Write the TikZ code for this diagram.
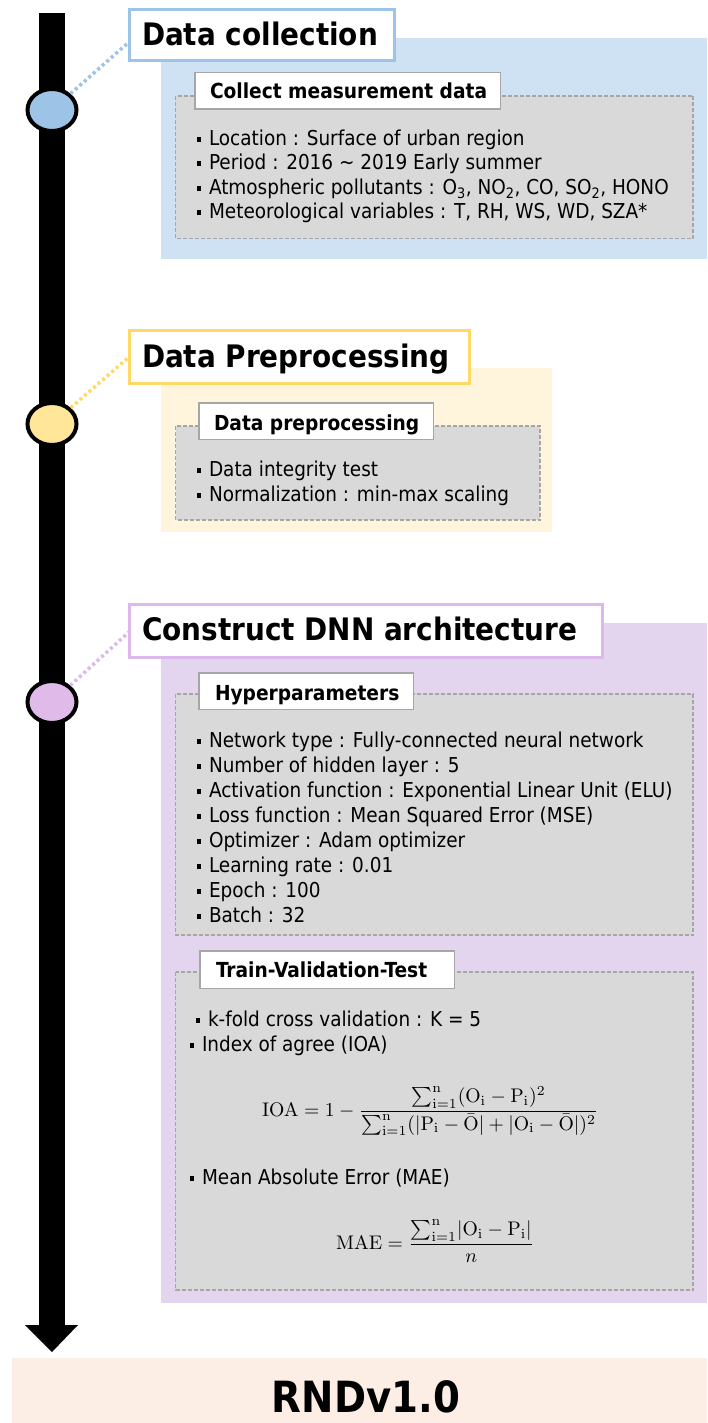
\documentclass[tikz,border=0pt]{standalone}
\usepackage{amsmath}
\usepackage[no-math]{fontspec}
\setmainfont{DejaVu Sans Condensed}
\usetikzlibrary{shapes.geometric}
\definecolor{bluebd}{HTML}{9DC3E6}
\definecolor{bluebg}{HTML}{CFE2F3}
\definecolor{yelbd}{HTML}{FFD966}
\definecolor{yelfill}{HTML}{FFE699}
\definecolor{yelbg}{HTML}{FFF5DC}
\definecolor{purbd}{HTML}{DDB8EC}
\definecolor{purfill}{HTML}{E0BBEA}
\definecolor{purbg}{HTML}{E4D5EE}
\definecolor{greyfill}{HTML}{D9D9D9}
\definecolor{greybd}{HTML}{A6A6A6}
\definecolor{peach}{HTML}{FCEDE5}
\newcommand\bul{\rule[3.5pt]{4pt}{5pt}\hspace{8pt}}
\begin{document}
\begin{tikzpicture}[x=1pt,y=-1pt,
  every node/.style={inner sep=0pt,outer sep=0pt},
  body/.style={anchor=base west,font=\fontsize{20.5}{25}\selectfont},
  ttl/.style={anchor=base west,font=\fontsize{31}{34}\selectfont\bfseries},
  subttl/.style={anchor=base west,font=\fontsize{20.7}{24}\selectfont\bfseries},
  tbox/.style={draw=#1,line width=3pt,fill=white},
  sbox/.style={draw=greybd,line width=1.5pt,fill=white},
  gbox/.style={draw=greybd,fill=greyfill,line width=1.2pt,dash pattern=on 4pt off 2pt},
  dot/.style={ellipse,draw=black,line width=4pt,fill=#1,minimum width=49pt,minimum height=42pt},
  dotl/.style={draw=#1,line width=3.5pt,dash pattern=on 3pt off 3pt,shorten <=2pt},
  formula/.style={anchor=base west,scale=1.97},
  ]
\useasboundingbox (0,0) rectangle (707,1423);
\fill[white] (0,0) rectangle (707,1423);
% timeline bar with arrow
\fill[black] (38.5,13) rectangle (65,1326);
\fill[black] (25,1325) -- (78,1325) -- (52,1352) -- cycle;
% backgrounds
\fill[bluebg] (161,38) rectangle (707,259);
\fill[yelbg] (161,368) rectangle (552,532);
\fill[purbg] (161,623) rectangle (707,1303);
\fill[peach] (12,1358) rectangle (707,1423);
% circles
\node[dot=bluebd] (c1) at (52,110) {};
\node[dot=yelfill] (c2) at (52,424) {};
\node[dot=purfill] (c3) at (52,702) {};
\coordinate (d1) at (129,42);
\coordinate (d2) at (129,357);
\coordinate (d3) at (129,632);
\draw[dotl=bluebd] (c1) -- (d1);
\draw[dotl=yelbd] (c2) -- (d2);
\draw[dotl=purbd] (c3) -- (d3);
% section 1
\draw[tbox=bluebd] (129.5,9.5) rectangle (394.5,60.5);
\node[ttl] (t1) at (142,46) {Data collection};
\draw[gbox] (175.5,96) rectangle (693,238.5);
\draw[sbox] (194.75,72.75) rectangle (500.25,109.25);
\node[subttl] (s1) at (210,99) {Collect measurement data};
\node[body] (l11) at (197,145.5) {\bul Location : Surface of urban region};
\node[body] (l12) at (197,170) {\bul Period : 2016 \textasciitilde{} 2019 Early summer};
\node[body] (l13) at (197,194.5) {\bul Atmospheric pollutants : O\textsubscript{3}, NO\textsubscript{2}, CO, SO\textsubscript{2}, HONO};
\node[body] (l14) at (197,219) {\bul Meteorological variables : T, RH, WS, WD, SZA*};
% section 2
\draw[tbox=yelbd] (129.5,330.5) rectangle (469.5,383.5);
\node[ttl] (t2) at (142,367) {Data Preprocessing};
\draw[gbox] (175.5,426) rectangle (540,520);
\draw[sbox] (198.75,402.75) rectangle (433.25,439.25);
\node[subttl] (s2) at (214,430) {Data preprocessing};
\node[body] (l21) at (197,476) {\bul Data integrity test};
\node[body] (l22) at (197,501) {\bul Normalization : min-max scaling};
% section 3
\draw[tbox=purbd] (129.5,604.5) rectangle (602.5,657.5);
\node[ttl] (t3) at (142,640) {Construct DNN architecture};
\draw[gbox] (175.5,694) rectangle (693,935);
\draw[sbox] (198.75,672.75) rectangle (413.25,709.25);
\node[subttl] (s3) at (215,700) {Hyperparameters};
\node[body] (h1) at (197,747) {\bul Network type : Fully-connected neural network};
\node[body] (h2) at (197,772.1) {\bul Number of hidden layer : 5};
\node[body] (h3) at (197,797.2) {\bul Activation function : Exponential Linear Unit (ELU)};
\node[body] (h4) at (197,822.3) {\bul Loss function : Mean Squared Error (MSE)};
\node[body] (h5) at (197,847.4) {\bul Optimizer : Adam optimizer};
\node[body] (h6) at (197,872.5) {\bul Learning rate : 0.01};
\node[body] (h7) at (197,897.6) {\bul Epoch : 100};
\node[body] (h8) at (197,922.7) {\bul Batch : 32};
\draw[gbox] (175.5,972) rectangle (693,1290);
\draw[sbox] (199.75,950.75) rectangle (454.25,988.25);
\node[subttl] (s4) at (216,977) {Train-Validation-Test};
\node[body] (v1) at (196,1026) {\bul k-fold cross validation : K = 5};
\node[body] (v2) at (190,1051) {\bul Index of agree (IOA)};
\node[formula] (ioa) at (262,1116)
  {$\displaystyle \mathrm{IOA} = 1 - \frac{\sum_{\mathrm{i}=1}^{\mathrm{n}}(\mathrm{O}_{\mathrm{i}}-\mathrm{P}_{\mathrm{i}})^2}{\sum_{\mathrm{i}=1}^{\mathrm{n}}(|\mathrm{P}_{\mathrm{i}}-\bar{\mathrm{O}}|+|\mathrm{O}_{\mathrm{i}}-\bar{\mathrm{O}}|)^2}$};
\node[body] (v3) at (190,1184) {\bul Mean Absolute Error (MAE)};
\node[formula] (mae) at (336,1249)
  {$\displaystyle \mathrm{MAE} = \frac{\sum_{\mathrm{i}=1}^{\mathrm{n}}\lvert\mathrm{O}_{\mathrm{i}}-\mathrm{P}_{\mathrm{i}}\rvert}{n}$};
% bottom
\node[anchor=base,font=\fontsize{43}{50}\selectfont\bfseries] (rnd) at (366,1412) {RNDv1.0};
\end{tikzpicture}
\end{document}
